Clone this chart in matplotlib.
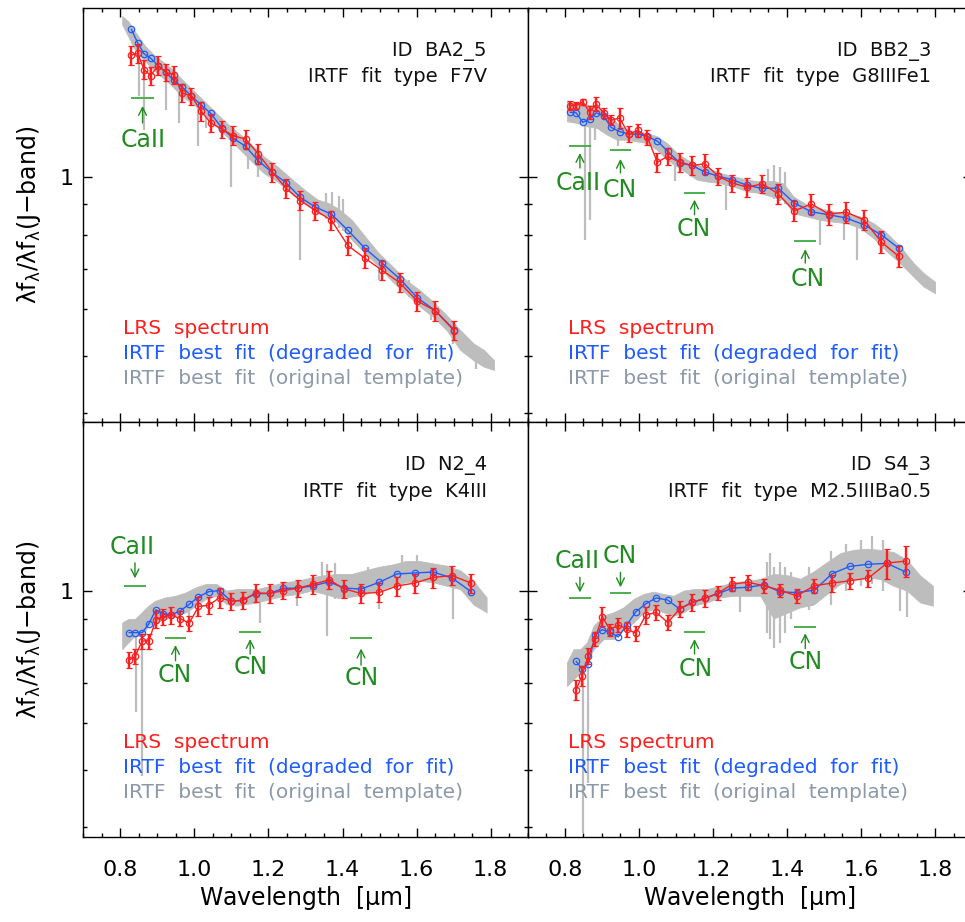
import numpy as np
import matplotlib
matplotlib.use('Agg')
import matplotlib.pyplot as plt
from matplotlib.ticker import FixedLocator, MultipleLocator, NullFormatter, FixedFormatter

plt.rcParams['font.family'] = ['DejaVu Sans']
plt.rcParams['mathtext.fontset'] = 'dejavusans'
plt.rcParams['mathtext.default'] = 'regular'

# ---------------- data ----------------
# panel names / fit types
ids = ['BA2_5', 'BB2_3', 'N2_4', 'S4_3']
fit_types = ['F7V', 'G8IIIFe1', 'K4III', 'M2.5IIIBa0.5']

# LRS wavelengths (um), LRS fluxes, LRS errors, IRTF degraded fluxes
wl_ba2 = [0.830, 0.847, 0.864, 0.882, 0.902, 0.923, 0.944, 0.967, 0.992, 1.018, 1.044, 1.074, 1.105, 1.138,
          1.172, 1.210, 1.247, 1.286, 1.327, 1.370, 1.414, 1.460, 1.506, 1.554, 1.602, 1.651, 1.701]
lrs_ba2 = [1.606, 1.616, 1.518, 1.483, 1.542, 1.502, 1.489, 1.386, 1.370, 1.291, 1.234, 1.205, 1.174, 1.159,
           1.095, 1.020, 0.958, 0.913, 0.878, 0.846, 0.767, 0.730, 0.697, 0.664, 0.618, 0.595, 0.551]
err_ba2 = [0.058, 0.058, 0.055, 0.053, 0.055, 0.052, 0.053, 0.050, 0.045, 0.047, 0.045, 0.040, 0.043, 0.042,
           0.042, 0.038, 0.036, 0.034, 0.030, 0.032, 0.029, 0.028, 0.026, 0.025, 0.023, 0.023, 0.020]
irtf_ba2 = [1.774, 1.682, 1.614, 1.586, 1.542, 1.502, 1.455, 1.418, 1.370, 1.323, 1.281, 1.210, 1.162, 1.127,
            1.066, 1.018, 0.979, 0.924, 0.890, 0.866, 0.814, 0.759, 0.717, 0.674, 0.626, 0.595, 0.553]

wl_bb2 = [0.815, 0.831, 0.849, 0.867, 0.885, 0.905, 0.925, 0.948, 0.973, 0.997, 1.023, 1.050, 1.078, 1.111,
          1.144, 1.178, 1.215, 1.252, 1.293, 1.334, 1.376, 1.420, 1.466, 1.513, 1.560, 1.608, 1.655, 1.702]
lrs_bb2 = [1.320, 1.320, 1.339, 1.286, 1.328, 1.283, 1.247, 1.258, 1.181, 1.199, 1.168, 1.059, 1.084, 1.059,
           1.046, 1.053, 1.003, 0.977, 0.962, 0.974, 0.937, 0.877, 0.901, 0.866, 0.873, 0.847, 0.777, 0.735]
err_bb2 = [0.021, 0.017, 0.017, 0.034, 0.034, 0.025, 0.024, 0.049, 0.036, 0.031, 0.034, 0.038, 0.034, 0.038,
           0.038, 0.041, 0.033, 0.032, 0.035, 0.034, 0.037, 0.034, 0.035, 0.036, 0.036, 0.033, 0.033, 0.031]
irtf_bb2 = [1.286, 1.283, 1.237, 1.253, 1.283, 1.269, 1.213, 1.193, 1.182, 1.182, 1.171, 1.150, 1.105, 1.056,
            1.046, 1.020, 1.003, 0.990, 0.968, 0.957, 0.958, 0.904, 0.874, 0.864, 0.853, 0.831, 0.799, 0.759]

wl_n2 = [0.824, 0.840, 0.859, 0.877, 0.896, 0.916, 0.938, 0.961, 0.986, 1.011, 1.039, 1.068, 1.099, 1.131,
         1.165, 1.203, 1.240, 1.280, 1.321, 1.364, 1.404, 1.450, 1.499, 1.547, 1.595, 1.645, 1.696, 1.747]
lrs_n2 = [0.766, 0.777, 0.825, 0.825, 0.896, 0.906, 0.912, 0.900, 0.884, 0.943, 0.948, 0.976, 0.963, 0.966,
          0.994, 0.992, 1.003, 1.013, 1.028, 1.046, 1.010, 0.992, 0.996, 1.021, 1.033, 1.056, 1.063, 1.033]
err_n2 = [0.024, 0.024, 0.024, 0.024, 0.029, 0.029, 0.030, 0.026, 0.025, 0.034, 0.031, 0.038, 0.031, 0.031,
          0.036, 0.036, 0.033, 0.033, 0.037, 0.038, 0.037, 0.036, 0.036, 0.037, 0.038, 0.041, 0.039, 0.038]
irtf_n2 = [0.852, 0.852, 0.852, 0.882, 0.931, 0.917, 0.913, 0.927, 0.951, 0.979, 0.999, 1.003, 0.963, 0.966,
           0.991, 0.992, 1.012, 1.013, 1.022, 1.038, 1.013, 1.009, 1.036, 1.070, 1.074, 1.078, 1.053, 0.999]

wl_s4 = [0.831, 0.846, 0.864, 0.882, 0.901, 0.922, 0.945, 0.967, 0.992, 1.019, 1.047, 1.078, 1.110, 1.144,
         1.178, 1.215, 1.253, 1.295, 1.338, 1.380, 1.426, 1.474, 1.522, 1.570, 1.620, 1.670, 1.722]
lrs_s4 = [0.682, 0.720, 0.779, 0.831, 0.907, 0.862, 0.878, 0.864, 0.850, 0.912, 0.922, 0.886, 0.934, 0.958,
          0.973, 0.994, 1.029, 1.036, 1.022, 1.005, 0.983, 1.022, 1.033, 1.042, 1.053, 1.116, 1.125]
err_s4 = [0.027, 0.028, 0.025, 0.022, 0.033, 0.020, 0.023, 0.025, 0.024, 0.030, 0.026, 0.025, 0.030, 0.031,
          0.032, 0.028, 0.029, 0.030, 0.029, 0.026, 0.028, 0.029, 0.034, 0.034, 0.034, 0.065, 0.069]
irtf_s4 = [0.762, 0.741, 0.754, 0.845, 0.862, 0.853, 0.838, 0.877, 0.924, 0.953, 0.975, 0.967, 0.934, 0.958,
           0.973, 0.992, 1.013, 1.016, 1.026, 0.999, 0.995, 1.005, 1.071, 1.102, 1.111, 1.115, 1.077]

# original IRTF templates: upper / lower edge of the dense part of the high-res spectrum
tw_ba2 = [0.805, 0.821, 0.839, 0.867, 0.894, 0.931, 0.967, 1.004, 1.041, 1.077, 1.114, 1.150, 1.187, 1.224, 1.260,
          1.297, 1.333, 1.361, 1.388, 1.425, 1.461, 1.498, 1.535, 1.571, 1.608, 1.644, 1.681, 1.718, 1.754, 1.782, 1.809]
thi_ba2 = [1.868, 1.832, 1.762, 1.663, 1.599, 1.538, 1.460, 1.386, 1.316, 1.250, 1.194, 1.141, 1.084, 1.042, 0.996,
           0.952, 0.916, 0.905, 0.885, 0.847, 0.794, 0.744, 0.707, 0.671, 0.645, 0.617, 0.585, 0.552, 0.524, 0.511, 0.491]
tlo_ba2 = [1.808, 1.728, 1.641, 1.568, 1.508, 1.441, 1.369, 1.316, 1.250, 1.187, 1.127, 1.070, 1.016, 0.983, 0.940,
           0.904, 0.869, 0.860, 0.835, 0.784, 0.744, 0.707, 0.666, 0.637, 0.605, 0.582, 0.552, 0.511, 0.491, 0.479, 0.473]

tw_bb2 = [0.806, 0.833, 0.860, 0.887, 0.914, 0.941, 0.968, 0.995, 1.022, 1.049, 1.076, 1.103, 1.130, 1.157, 1.184,
          1.220, 1.256, 1.292, 1.328, 1.364, 1.391, 1.418, 1.454, 1.490, 1.526, 1.562, 1.598, 1.634, 1.670, 1.706,
          1.742, 1.769, 1.800]
thi_bb2 = [1.342, 1.334, 1.325, 1.316, 1.274, 1.234, 1.202, 1.194, 1.187, 1.171, 1.141, 1.098, 1.070, 1.049, 1.036,
           1.016, 1.003, 0.990, 0.983, 0.985, 0.975, 0.927, 0.898, 0.886, 0.875, 0.869, 0.858, 0.836, 0.804, 0.764,
           0.716, 0.689, 0.666]
tlo_bb2 = [1.242, 1.234, 1.218, 1.210, 1.179, 1.156, 1.156, 1.149, 1.141, 1.112, 1.070, 1.042, 1.016, 0.990, 0.983,
           0.977, 0.964, 0.946, 0.940, 0.925, 0.915, 0.869, 0.858, 0.847, 0.841, 0.836, 0.820, 0.789, 0.749, 0.716,
           0.679, 0.654, 0.637]

tw_n2 = [0.805, 0.821, 0.839, 0.858, 0.876, 0.894, 0.922, 0.949, 0.977, 1.004, 1.031, 1.059, 1.086, 1.114, 1.141,
         1.169, 1.205, 1.242, 1.279, 1.315, 1.352, 1.388, 1.425, 1.461, 1.498, 1.535, 1.571, 1.608, 1.644, 1.681,
         1.718, 1.754, 1.789]
thi_n2 = [0.886, 0.898, 0.898, 0.922, 0.946, 0.964, 0.977, 0.983, 0.996, 1.016, 1.029, 1.029, 1.003, 1.009, 1.009,
          1.009, 1.022, 1.036, 1.042, 1.056, 1.065, 1.070, 1.070, 1.085, 1.100, 1.110, 1.125, 1.125, 1.115, 1.105,
          1.085, 1.040, 0.977]
tlo_n2 = [0.799, 0.820, 0.841, 0.841, 0.875, 0.886, 0.898, 0.910, 0.922, 0.946, 0.971, 0.983, 0.952, 0.946, 0.952,
          0.958, 0.971, 0.983, 0.990, 1.003, 0.990, 0.975, 0.980, 0.990, 1.005, 1.022, 1.036, 1.042, 1.036, 1.022,
          1.009, 0.950, 0.922]

tw_s4 = [0.806, 0.824, 0.842, 0.860, 0.878, 0.905, 0.932, 0.959, 0.986, 1.013, 1.040, 1.067, 1.094, 1.121, 1.148,
         1.184, 1.220, 1.256, 1.292, 1.328, 1.364, 1.400, 1.436, 1.472, 1.508, 1.544, 1.580, 1.616, 1.652, 1.688,
         1.724, 1.760, 1.794]
thi_s4 = [0.759, 0.799, 0.799, 0.820, 0.875, 0.910, 0.922, 0.940, 0.971, 0.990, 0.999, 0.990, 0.983, 1.003, 1.009,
          1.009, 1.022, 1.036, 1.042, 1.049, 1.070, 1.065, 1.050, 1.080, 1.120, 1.160, 1.175, 1.180, 1.175, 1.165,
          1.130, 1.063, 1.022]
tlo_s4 = [0.693, 0.711, 0.730, 0.759, 0.799, 0.831, 0.831, 0.864, 0.886, 0.922, 0.934, 0.922, 0.910, 0.922, 0.946,
          0.958, 0.977, 0.983, 0.983, 0.983, 0.900, 0.920, 0.940, 0.950, 0.990, 1.029, 1.049, 1.056, 1.049, 1.022,
          1.003, 0.958, 0.946]

# single spikes (absorption lines / noise) of the templates: wavelength, top, bottom
lw_ba2 = [0.850, 0.865, 0.880, 0.924, 0.958, 1.009, 1.030, 1.098, 1.145, 1.172, 1.286, 1.355, 1.372, 1.390,
          1.402, 1.498, 1.580, 1.640, 1.699, 1.760]
ltop_ba2 = [1.641, 1.599, 1.580, 1.520, 1.440, 1.370, 1.330, 1.210, 1.130, 1.090, 0.950, 0.940, 0.945, 0.930,
            0.920, 0.740, 0.670, 0.615, 0.570, 0.520]
lbot_ba2 = [1.369, 1.202, 1.450, 1.299, 1.234, 1.127, 1.210, 0.964, 1.030, 1.000, 0.725, 0.850, 0.840, 0.820,
            0.810, 0.671, 0.629, 0.575, 0.524, 0.475]

lw_bb2 = [0.856, 0.867, 0.883, 0.943, 1.099, 1.236, 1.350, 1.366, 1.380, 1.395, 1.488, 1.553, 1.590, 1.656]
ltop_bb2 = [1.300, 1.300, 1.280, 1.220, 1.070, 0.980, 1.030, 1.050, 1.040, 1.020, 0.870, 0.860, 0.850, 0.800]
lbot_bb2 = [0.784, 0.847, 1.156, 1.127, 0.983, 0.881, 0.930, 0.920, 0.910, 0.900, 0.769, 0.784, 0.725, 0.749]

lw_n2 = [0.842, 0.858, 0.986, 1.178, 1.278, 1.345, 1.358, 1.380, 1.470, 1.498, 1.560, 1.600, 1.699]
ltop_n2 = [0.870, 0.880, 0.950, 0.990, 1.000, 1.120, 1.110, 1.115, 1.100, 1.000, 1.150, 1.150, 1.050]
lbot_n2 = [0.625, 0.489, 0.864, 0.886, 0.946, 1.000, 0.841, 0.970, 0.990, 0.934, 1.040, 1.050, 0.898]

lw_s4 = [0.849, 0.863, 1.085, 1.274, 1.346, 1.355, 1.364, 1.382, 1.395, 1.410, 1.460, 1.520, 1.560, 1.600,
         1.630, 1.660, 1.704, 1.724]
ltop_s4 = [0.750, 0.780, 0.950, 1.000, 1.120, 1.160, 1.100, 1.120, 1.100, 1.080, 1.100, 1.170, 1.200, 1.220,
           1.240, 1.220, 1.050, 1.050]
lbot_s4 = [0.392, 0.476, 0.875, 0.922, 0.850, 0.830, 0.804, 0.820, 0.850, 0.900, 0.930, 0.950, 1.000, 1.020,
           1.030, 1.000, 0.928, 0.904]

# ---------------- styles ----------------
RED = '#ff1e1e'
BLUE = '#1f5cff'
GREY = '#bdbdbd'
GREYTXT = '#8c99aa'
GREEN = '#228b22'
GREENBAR = '#4caf4c'

# feature markers: label, bar from, bar to, bar y, arrow tail y, arrow head y, label x, label y
features = [
    [('CaII', 0.830, 0.890, 1.360, 1.234, 1.318, 0.862, 1.156)],
    [('CaII', 0.811, 0.871, 1.129, 1.036, 1.098, 0.835, 0.979),
     ('CN', 0.921, 0.980, 1.109, 1.016, 1.073, 0.948, 0.952),
     ('CN', 1.121, 1.180, 0.940, 0.864, 0.916, 1.148, 0.817),
     ('CN', 1.420, 1.479, 0.780, 0.716, 0.756, 1.456, 0.672)],
    [('CaII', 0.810, 0.869, 1.022, 1.117, 1.052, 0.832, 1.187),
     ('CN', 0.920, 0.978, 0.833, 0.764, 0.812, 0.946, 0.723),
     ('CN', 1.121, 1.180, 0.853, 0.784, 0.831, 1.152, 0.747),
     ('CN', 1.420, 1.480, 0.833, 0.751, 0.801, 1.452, 0.715)],
    [('CaII', 0.811, 0.871, 0.973, 1.056, 0.996, 0.833, 1.127),
     ('CN', 0.921, 0.980, 0.994, 1.077, 1.016, 0.948, 1.149),
     ('CN', 1.121, 1.180, 0.853, 0.784, 0.831, 1.153, 0.741),
     ('CN', 1.420, 1.479, 0.872, 0.801, 0.850, 1.451, 0.759)],
]

panels = [
    (wl_ba2, lrs_ba2, err_ba2, irtf_ba2, tw_ba2, thi_ba2, tlo_ba2, lw_ba2, ltop_ba2, lbot_ba2),
    (wl_bb2, lrs_bb2, err_bb2, irtf_bb2, tw_bb2, thi_bb2, tlo_bb2, lw_bb2, ltop_bb2, lbot_bb2),
    (wl_n2, lrs_n2, err_n2, irtf_n2, tw_n2, thi_n2, tlo_n2, lw_n2, ltop_n2, lbot_n2),
    (wl_s4, lrs_s4, err_s4, irtf_s4, tw_s4, thi_s4, tlo_s4, lw_s4, ltop_s4, lbot_s4),
]

fig = plt.figure(figsize=(9.65, 9.22), dpi=100)
W, H = 965.0, 922.0
x0s = [83.3, 527.7]
y_tops = [7.7, 422.0]
pw, ph = 444.4, 414.6

for k, p in enumerate(panels):
    row, col = divmod(k, 2)
    ax = fig.add_axes([x0s[col] / W, 1 - (y_tops[row] + ph) / H, pw / W, ph / H])
    wl, lrs, err, irtf, tw, thi, tlo, lw_, ltop, lbot = p

    # grey original template
    ax.fill_between(tw, tlo, thi, color=GREY, lw=0.6, zorder=1)
    ax.vlines(lw_, lbot, ltop, color=GREY, lw=1.6, zorder=1)

    # blue degraded template
    ax.plot(wl, irtf, '-o', color=BLUE, lw=1.0, ms=4.6, mfc='none', mew=0.9, zorder=3)
    # red LRS spectrum
    ax.errorbar(wl, lrs, yerr=err, fmt='-o', color=RED, lw=1.0, ms=4.6, mfc='none', mew=0.9,
                elinewidth=1.7, capsize=2.4, capthick=1.5, zorder=4)

    # absorption feature markers
    for lab, a, b, yb, yt, yh, xl, yl in features[k]:
        ax.hlines(yb, a, b, color=GREENBAR, lw=1.4, zorder=5)
        ax.annotate('', xy=((a + b) / 2, yh), xytext=((a + b) / 2, yt),
                    arrowprops=dict(arrowstyle='->', color=GREEN, lw=1.0, mutation_scale=14,
                                    shrinkA=0, shrinkB=0), zorder=5)
        ax.text(xl, yl, lab, color=GREEN, fontsize=17, ha='center', va='center', zorder=5)

    ax.text(0.908, 0.894, 'ID  ' + ids[k], transform=ax.transAxes, ha='right', va='center',
            fontsize=14, color='#111111')
    ax.text(0.908, 0.833, 'IRTF  fit  type  ' + fit_types[k], transform=ax.transAxes, ha='right',
            va='center', fontsize=14, color='#111111')

    ax.text(0.09, 0.226, 'LRS  spectrum', color=RED, transform=ax.transAxes, va='center', fontsize=14.5)
    ax.text(0.09, 0.166, 'IRTF  best  fit  (degraded  for  fit)', color=BLUE, transform=ax.transAxes,
            va='center', fontsize=14.5)
    ax.text(0.09, 0.106, 'IRTF  best  fit  (original  template)', color=GREYTXT, transform=ax.transAxes,
            va='center', fontsize=14.5)

    ax.set_yscale('log')
    ax.set_xlim(0.7, 1.9)
    ax.set_ylim(0.386, 1.93)

    ax.xaxis.set_major_locator(FixedLocator([0.8, 1.0, 1.2, 1.4, 1.6, 1.8]))
    ax.xaxis.set_minor_locator(MultipleLocator(0.05))
    ax.yaxis.set_major_locator(FixedLocator([1.0]))
    ax.yaxis.set_minor_locator(FixedLocator([0.4, 0.5, 0.6, 0.7, 0.8, 0.9]))
    ax.yaxis.set_minor_formatter(NullFormatter())
    ax.yaxis.set_major_formatter(FixedFormatter(['1']))
    ax.tick_params(which='both', direction='in', top=True, right=True, width=1.0, labelsize=16)
    ax.tick_params(which='major', length=6.5)
    ax.tick_params(which='minor', length=3.2)
    ax.tick_params(axis='x', pad=17)
    ax.tick_params(axis='y', pad=7)
    for s in ax.spines.values():
        s.set_linewidth(1.0)

    if row == 0:
        ax.tick_params(axis='x', labelbottom=False)
    else:
        ax.set_xticklabels(['0.8', '1.0', '1.2', '1.4', '1.6', '1.8'])
        ax.set_xlabel(r'Wavelength  [$\mu$m]', fontsize=17, labelpad=3)
    if col == 1:
        ax.tick_params(axis='y', labelleft=False)
    else:
        ax.set_ylabel(r'$\lambda f_{\lambda}/\lambda f_{\lambda}$(J$-$band)', fontsize=17, labelpad=12)

fig.savefig('out.png', dpi=100)
